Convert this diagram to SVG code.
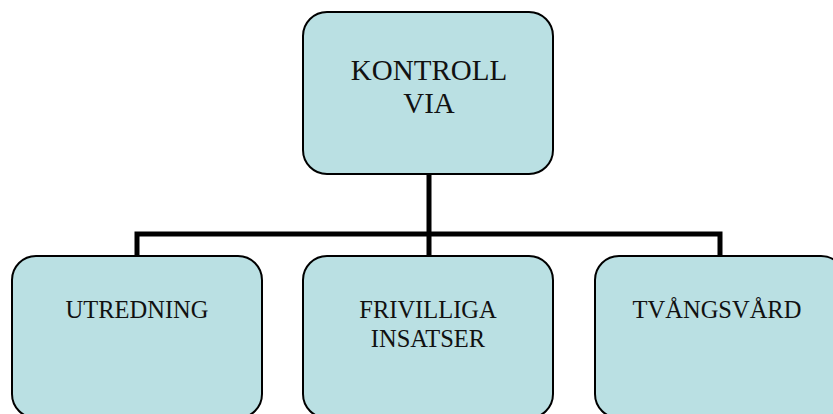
<svg xmlns="http://www.w3.org/2000/svg" width="833" height="414" viewBox="0 0 833 414">
<style>
.box{fill:#bae0e3;stroke:#000;stroke-width:2}
.lbl{font-family:"Liberation Serif",serif;fill:#111;text-anchor:middle}
.t{font-size:29px}
.s{font-size:24.5px}
.conn{fill:none;stroke:#000;stroke-width:5}
</style>
<rect width="833" height="414" fill="#fff"/>
<g id="connectors">
<path class="conn" d="M429 174V234M137 256V234H720V256M429 234V256"/>
</g>
<g id="node-kontroll">
<rect class="box" x="303" y="12" width="250" height="162" rx="24"/>
<text class="lbl t" x="429" y="80">KONTROLL</text>
<text class="lbl t" x="429" y="113">VIA</text>
</g>
<g id="node-utredning">
<rect class="box" x="12" y="256" width="250" height="162" rx="24"/>
<text class="lbl s" x="137" y="318">UTREDNING</text>
</g>
<g id="node-frivilliga">
<rect class="box" x="303" y="256" width="250" height="162" rx="24"/>
<text class="lbl s" x="428" y="318">FRIVILLIGA</text>
<text class="lbl s" x="428" y="347">INSATSER</text>
</g>
<g id="node-tvangsvard">
<rect class="box" x="595" y="256" width="250" height="162" rx="24"/>
<text class="lbl s" x="717" y="318">TVÅNGSVÅRD</text>
</g>
</svg>
